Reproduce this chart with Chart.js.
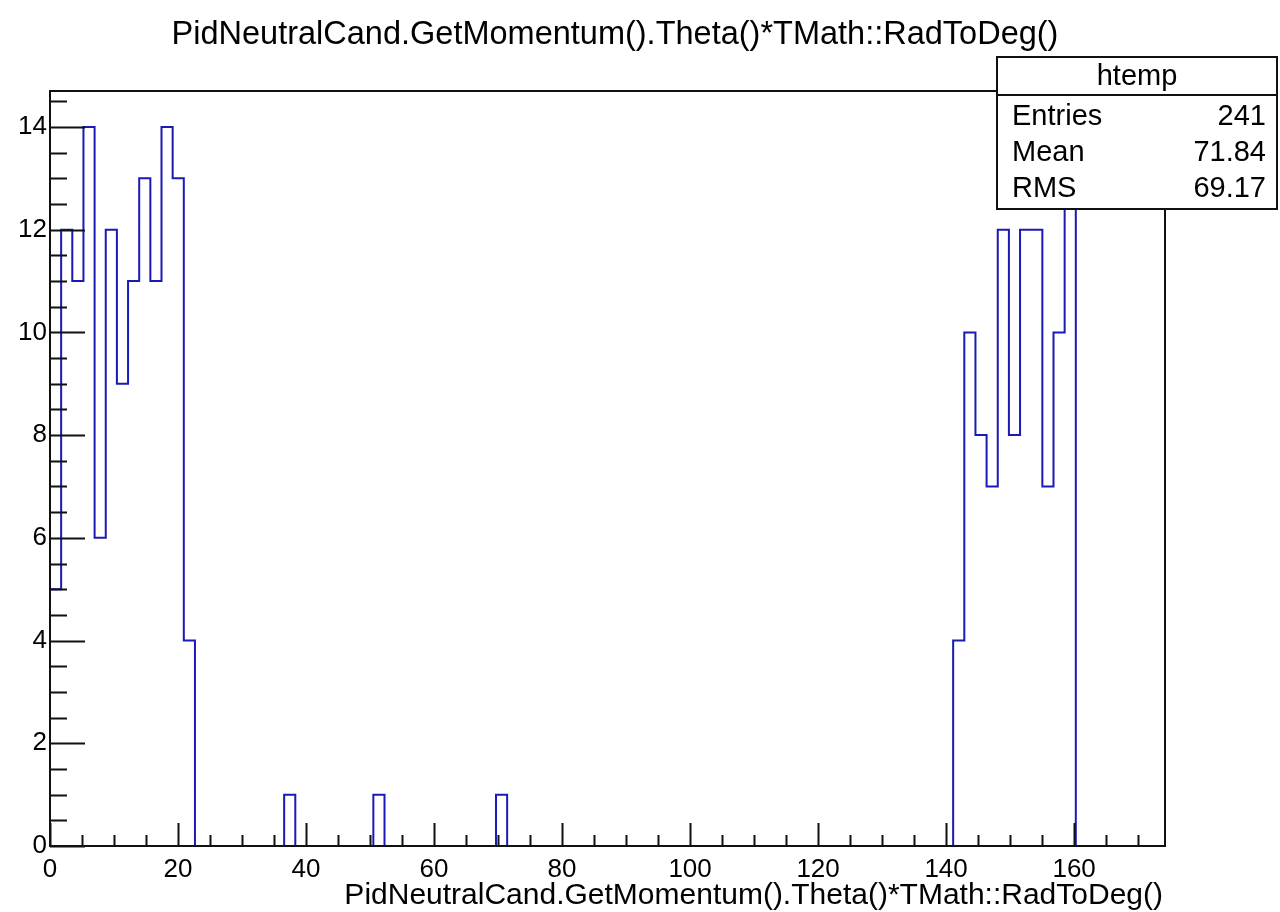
<!DOCTYPE html>
<html>
<head>
<meta charset="utf-8">
<title>htemp</title>
<script src="https://cdn.jsdelivr.net/npm/chart.js@4"></script>
<style>
  html, body { margin: 0; padding: 0; background: #fff; }
  canvas { display: block; }
</style>
</head>
<body>
<canvas id="hist" width="1280" height="912"></canvas>
<script>
// ============================================================
// htemp — theta of neutral candidates (ROOT style histogram)
// ============================================================

const histTitle  = 'PidNeutralCand.GetMomentum().Theta()*TMath::RadToDeg()';
const xAxisTitle = 'PidNeutralCand.GetMomentum().Theta()*TMath::RadToDeg()';

// 100 bins from xMin to xMax
const xMin = 0;
const xMax = 174.2;
const counts = [
  5, 12, 11, 14,  6, 12,  9, 11, 13, 11,
 14, 13,  4,  0,  0,  0,  0,  0,  0,  0,
  0,  1,  0,  0,  0,  0,  0,  0,  0,  1,
  0,  0,  0,  0,  0,  0,  0,  0,  0,  0,
  1,  0,  0,  0,  0,  0,  0,  0,  0,  0,
  0,  0,  0,  0,  0,  0,  0,  0,  0,  0,
  0,  0,  0,  0,  0,  0,  0,  0,  0,  0,
  0,  0,  0,  0,  0,  0,  0,  0,  0,  0,
  0,  4, 10,  8,  7, 12,  8, 12, 12,  7,
 10, 13,  0,  0,  0,  0,  0,  0,  0,  0,
];
const yMax = 14.7;

// axis ticks
const xTickLabels  = [0, 20, 40, 60, 80, 100, 120, 140, 160];
const xMinorStep   = 5;
const yTickLabels  = [0, 2, 4, 6, 8, 10, 12, 14];
const yMinorStep   = 0.5;

// stats box
const statsName   = 'htemp';
const statsLabels = ['Entries', 'Mean', 'RMS'];
const statsValues = ['241', '71.84', '69.17'];

const FONT = '"Liberation Sans", Arial, Helvetica, sans-serif';
const LINE_BLUE = '#1a1ab4';
const AXIS = '#111';

// outline points: left edge of every bin, stepped
const binWidth = (xMax - xMin) / counts.length;
const outline = [{ x: xMin, y: 0 }];
counts.forEach((c, i) => outline.push({ x: xMin + i * binWidth, y: c }));
outline.push({ x: xMax, y: 0 });

const rootFrame = {
  id: 'rootFrame',
  afterDraw(chart) {
    const { ctx, chartArea: a, scales } = chart;
    const xs = scales.x, ys = scales.y;
    ctx.save();

    // frame top + right
    ctx.strokeStyle = AXIS;
    ctx.lineWidth = 2;
    ctx.beginPath();
    ctx.moveTo(a.left, a.top);
    ctx.lineTo(a.right, a.top);
    ctx.lineTo(a.right, a.bottom);
    ctx.stroke();

    // inside ticks
    ctx.beginPath();
    for (let v = xMin; v <= xMax; v += xMinorStep) {
      const px = Math.round(xs.getPixelForValue(v)) + 0.5;
      const len = xTickLabels.includes(v) ? 23 : 11;
      ctx.moveTo(px, a.bottom);
      ctx.lineTo(px, a.bottom - len);
    }
    for (let v = 0; v <= yMax; v += yMinorStep) {
      const py = Math.round(ys.getPixelForValue(v)) + 0.5;
      const len = yTickLabels.includes(v) ? 35 : 17;
      ctx.moveTo(a.left, py);
      ctx.lineTo(a.left + len, py);
    }
    ctx.stroke();

    // titles
    ctx.fillStyle = '#000';
    ctx.font = `32.5px ${FONT}`;
    ctx.textAlign = 'center';
    ctx.textBaseline = 'alphabetic';
    ctx.fillText(histTitle, 615, 44);
    ctx.textAlign = 'right';
    ctx.font = `30px ${FONT}`;
    ctx.fillText(xAxisTitle, 1163, 904);

    // stats box
    const bx = 997, by = 57, bw = 280, bh = 152;
    ctx.fillStyle = '#fff';
    ctx.fillRect(bx, by, bw, bh);
    ctx.strokeStyle = AXIS;
    ctx.lineWidth = 2;
    ctx.strokeRect(bx, by, bw, bh);
    ctx.beginPath();
    ctx.moveTo(bx, 95);
    ctx.lineTo(bx + bw, 95);
    ctx.stroke();

    ctx.fillStyle = '#000';
    ctx.font = `29px ${FONT}`;
    ctx.textAlign = 'center';
    ctx.fillText(statsName, bx + bw / 2, 85);
    const rows = [125, 161, 197];
    statsLabels.forEach((l, i) => {
      ctx.textAlign = 'left';
      ctx.fillText(l, 1012, rows[i]);
      ctx.textAlign = 'right';
      ctx.fillText(statsValues[i], 1266, rows[i]);
    });
    ctx.restore();
  },
};

new Chart(document.getElementById('hist'), {
  type: 'line',
  data: {
    datasets: [{
      data: outline,
      stepped: true,
      borderColor: LINE_BLUE,
      borderWidth: 2,
      pointRadius: 0,
      fill: false,
      tension: 0,
    }],
  },
  options: {
    responsive: false,
    animation: false,
    devicePixelRatio: 1,
    layout: { padding: { top: 91, right: 115, left: 0, bottom: 0 } },
    plugins: { legend: { display: false }, tooltip: { enabled: false } },
    scales: {
      x: {
        type: 'linear',
        min: xMin, max: xMax,
        afterFit: s => { s.height = 66; },
        afterBuildTicks: s => { s.ticks = xTickLabels.map(v => ({ value: v })); },
        grid: { display: false, drawTicks: false },
        border: { display: true, color: AXIS, width: 2, z: 1 },
        ticks: { color: '#000', padding: 8, maxRotation: 0, autoSkip: false, font: { family: FONT, size: 26 } },
      },
      y: {
        min: 0, max: yMax,
        afterFit: s => { s.width = 50; },
        afterBuildTicks: s => { s.ticks = yTickLabels.map(v => ({ value: v })); },
        grid: { display: false, drawTicks: false },
        border: { display: true, color: AXIS, width: 2, z: 1 },
        ticks: { color: '#000', padding: 3, font: { family: FONT, size: 26 } },
      },
    },
  },
  plugins: [rootFrame],
});
</script>
</body>
</html>
